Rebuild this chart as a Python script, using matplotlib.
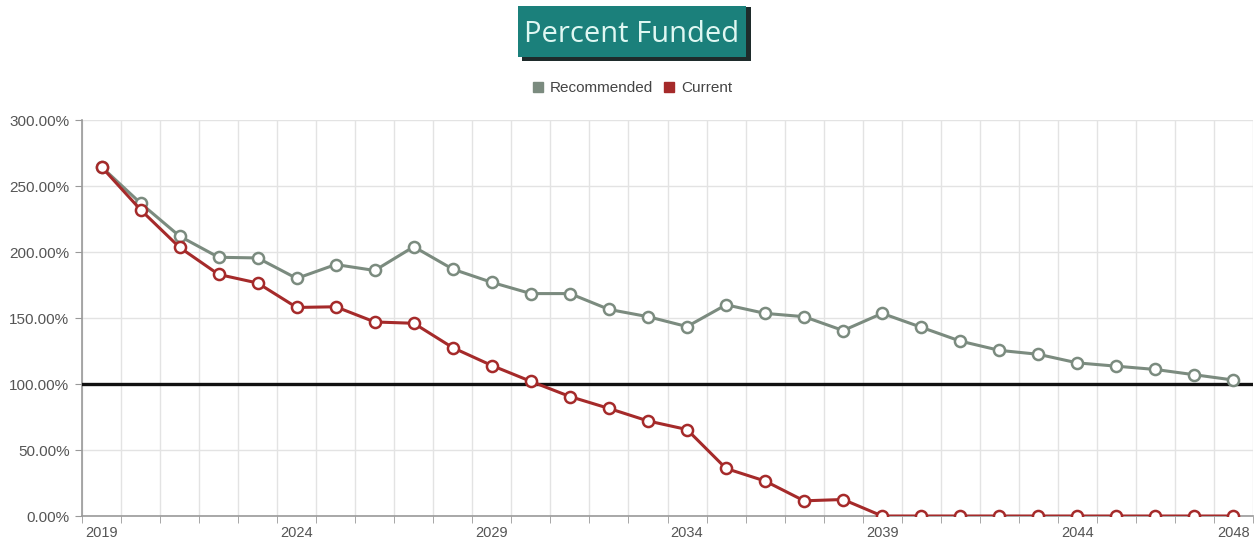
import matplotlib.pyplot as plt
import matplotlib.patches as mpatches
import matplotlib.lines as mlines
from matplotlib.ticker import FuncFormatter

# Funding projection, one point per year
years = list(range(2019, 2049))
recommended = [264.5, 237, 212, 196, 195.5, 180, 190.5, 186, 204, 187,
               177, 168.5, 168.5, 156.5, 151, 143.5, 160, 153.5, 151, 140.5,
               153.5, 143, 132.5, 125.5, 122.5, 116, 113.5, 111, 107, 103]
current = [264.5, 232, 203.5, 183, 176.5, 158, 158.5, 147, 146, 127.5,
           114, 102, 90.5, 81.5, 72, 65.5, 36, 26.5, 11.5, 12.5,
           0, 0, 0, 0, 0, 0, 0, 0, 0, 0]
labelled_years = [2019, 2024, 2029, 2034, 2039, 2044, 2048]

kRec = '#7b8b7f'
kCur = '#a52a2a'
kTeal = '#1b807b'
kGrid = '#e3e3e3'
kText = '#555555'

plt.rcParams['font.family'] = ['Liberation Sans', 'DejaVu Sans']

fig = plt.figure(figsize=(12.59, 5.44), dpi=100)
W, H = 1259, 544
ax = fig.add_axes([82 / W, 1 - 516 / H, (1253 - 82) / W, (516 - 120) / H])

x = list(range(len(years)))
ax.plot(x, recommended, color=kRec, lw=2.2, marker='o', ms=8,
        mfc='white', mec=kRec, mew=1.8, zorder=4)
ax.plot(x, current, color=kCur, lw=2.2, marker='o', ms=8,
        mfc='white', mec=kCur, mew=1.8, zorder=5)

# 100% reference line
ax.axhline(100, color='#111111', lw=2.4, zorder=3)

ax.set_xlim(-0.5, len(years) - 0.5)
ax.set_ylim(0, 300)

# category bands: gridlines/ticks on the boundaries, labels on the centres
ax.set_xticks([i - 0.5 for i in range(len(years) + 1)], minor=True)
ax.set_xticks([years.index(y) for y in labelled_years])
ax.set_xticklabels([str(y) for y in labelled_years], fontsize=10.5, color=kText)
ax.tick_params(axis='x', which='major', length=0, pad=7)
ax.tick_params(axis='x', which='minor', length=5, color='#999999')
ax.grid(True, which='minor', axis='x', color=kGrid, lw=1)

ax.set_yticks([0, 50, 100, 150, 200, 250, 300])
ax.yaxis.set_major_formatter(FuncFormatter(lambda v, p: '%.2f%%' % v))
ax.tick_params(axis='y', length=5, color='#999999', labelsize=11,
               labelcolor=kText, pad=4)
ax.grid(True, which='major', axis='y', color=kGrid, lw=1)
ax.set_axisbelow(True)

for s in ['top', 'right']:
    ax.spines[s].set_visible(False)
ax.spines['left'].set_color('#999999')
ax.spines['bottom'].set_color('#999999')
ax.spines['left'].set_linewidth(1.2)
ax.spines['bottom'].set_linewidth(1.2)

# title badge with drop shadow
shadow = mpatches.Rectangle((522 / W, 1 - 61 / H), 229 / W, 54 / H,
                            transform=fig.transFigure, fc='#1e2b2b', ec='none')
badge = mpatches.Rectangle((518 / W, 1 - 57 / H), 228 / W, 51 / H,
                           transform=fig.transFigure, fc=kTeal, ec='none')
fig.patches.extend([shadow, badge])
fig.text(632 / W, 1 - 34 / H, 'Percent Funded', family='Open Sans',
         fontsize=21, color='#dff7f2', ha='center', va='center')

# legend
rec_h = mlines.Line2D([], [], color=kRec, ls='', marker='s', ms=7, label='Recommended')
cur_h = mlines.Line2D([], [], color=kCur, ls='', marker='s', ms=7, label='Current')
fig.legend(handles=[rec_h, cur_h], loc='center', bbox_to_anchor=(632 / W, 1 - 88 / H),
           ncol=2, frameon=False, fontsize=11, handlelength=0.8,
           handletextpad=0.4, columnspacing=0.6, labelcolor='#444444')

fig.savefig('out.png', dpi=100)
